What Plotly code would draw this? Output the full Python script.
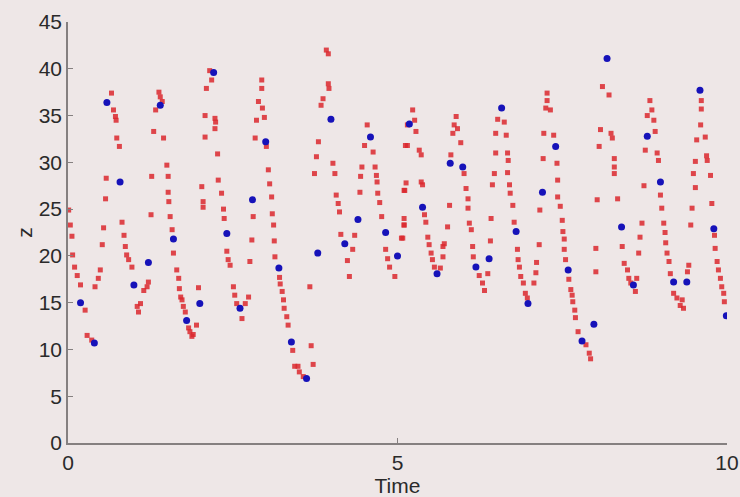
import plotly.graph_objects as go

# Red trajectory/ensemble points (time, z)
red_t = [0.01, 0.035, 0.06, 0.07, 0.10, 0.14, 0.19, 0.26, 0.29, 0.36,
         0.41, 0.46, 0.49, 0.52, 0.54, 0.57, 0.58, 0.66, 0.69, 0.72,
         0.73, 0.74, 0.78, 0.82, 0.85, 0.87, 0.89, 0.92, 0.97, 1.05,
         1.10, 1.07, 1.15, 1.20, 1.22, 1.26, 1.27, 1.30, 1.33, 1.38,
         1.40, 1.43, 1.45, 1.50, 1.52, 1.52, 1.53, 1.55, 1.58, 1.60,
         1.65, 1.68, 1.69, 1.71, 1.73, 1.75, 1.78, 1.83, 1.85, 1.88,
         1.90, 1.95, 1.98, 2.03, 2.05, 2.05, 2.08, 2.08, 2.10, 2.15,
         2.18, 2.23, 2.24, 2.23, 2.27, 2.28, 2.33, 2.36, 2.37, 2.41,
         2.43, 2.46, 2.51, 2.53, 2.56, 2.64, 2.69, 2.74, 2.76, 2.79,
         2.81, 2.84, 2.86, 2.89, 2.94, 2.94, 2.95, 2.98, 3.01, 3.04,
         3.06, 3.09, 3.10, 3.12, 3.13, 3.14, 3.21, 3.22, 3.25, 3.27,
         3.28, 3.32, 3.34, 3.41, 3.44, 3.49, 3.51, 3.57, 3.67, 3.69,
         3.72, 3.74, 3.77, 3.80, 3.84, 3.87, 3.92, 3.95, 3.95, 3.96,
         4.02, 4.05, 4.07, 4.10, 4.12, 4.14, 4.24, 4.27, 4.32, 4.35,
         4.43, 4.44, 4.46, 4.50, 4.54, 4.63, 4.66, 4.68, 4.69, 4.70,
         4.73, 4.76, 4.82, 4.85, 4.88, 4.96, 5.06, 5.10, 5.11, 5.12,
         5.15, 5.23, 5.26, 5.28, 5.15, 5.33, 5.36, 5.13, 5.10, 5.36,
         5.38, 5.41, 5.43, 5.10, 5.10, 5.08, 5.46, 5.48, 5.51, 5.53,
         5.56, 5.65, 5.69, 5.69, 5.71, 5.76, 5.79, 5.81, 5.84, 5.86,
         5.89, 5.91, 5.96, 6.01, 6.04, 6.07, 6.07, 6.09, 6.12, 6.14,
         6.15, 6.24, 6.29, 6.32, 6.37, 6.41, 6.42, 6.44, 6.47, 6.49,
         6.49, 6.52, 6.62, 6.65, 6.67, 6.68, 6.67, 6.70, 6.71, 6.75,
         6.77, 6.82, 6.83, 6.85, 6.87, 6.91, 6.94, 6.97, 7.07, 7.10,
         7.11, 7.15, 7.16, 7.21, 7.22, 7.25, 7.27, 7.27, 7.32, 7.37,
         7.42, 7.43, 7.43, 7.47, 7.50, 7.51, 7.53, 7.53, 7.55, 7.60,
         7.63, 7.65, 7.66, 7.69, 7.70, 7.74, 7.86, 7.91, 7.93, 8.01,
         8.01, 8.03, 8.06, 8.08, 8.11, 8.21, 8.24, 8.26, 8.29, 8.29,
         8.29, 8.34, 8.41, 8.44, 8.49, 8.51, 8.54, 8.63, 8.61, 8.66,
         8.68, 8.71, 8.74, 8.76, 8.79, 8.83, 8.86, 8.89, 8.91, 8.94,
         8.96, 8.99, 9.01, 9.04, 9.06, 9.07, 9.09, 9.12, 9.14, 9.19,
         9.24, 9.29, 9.34, 9.32, 9.40, 9.42, 9.45, 9.47, 9.52, 9.49,
         9.52, 9.54, 9.60, 9.61, 9.61, 9.67, 9.69, 9.70, 9.75, 9.77,
         9.81, 9.82, 9.85, 9.87, 9.90, 9.92, 9.95, 9.96]
red_z = [24.9, 23.3, 22.1, 20.1, 18.8, 17.9, 16.9, 14.2, 11.5, 11.0,
         16.7, 17.6, 18.5, 21.2, 23.0, 26.1, 28.3, 37.4, 35.6, 34.9,
         34.5, 32.6, 31.7, 23.6, 22.2, 21.0, 20.1, 19.6, 18.8, 14.6,
         14.9, 14.0, 16.3, 16.7, 17.2, 24.4, 28.5, 33.3, 35.6, 37.5,
         37.0, 36.5, 32.6, 29.7, 28.5, 26.8, 25.8, 24.2, 22.8, 20.3,
         18.5, 17.6, 16.5, 15.6, 15.3, 14.6, 14.0, 12.3, 11.9, 11.4,
         11.6, 12.6, 16.6, 27.4, 25.8, 25.2, 35.0, 32.7, 37.9, 39.8,
         38.8, 34.7, 34.3, 33.6, 30.9, 28.1, 26.7, 25.0, 24.0, 20.5,
         19.6, 19.0, 16.7, 15.8, 14.9, 13.3, 14.9, 15.6, 19.4, 21.7,
         24.2, 32.6, 34.5, 36.5, 38.8, 37.9, 35.8, 34.8, 31.7, 29.2,
         27.7, 26.3, 24.5, 23.3, 21.6, 19.9, 17.7, 17.0, 16.2, 15.3,
         14.4, 13.5, 12.6, 9.9, 8.2, 8.2, 7.6, 7.1, 16.7, 10.4,
         8.4, 28.8, 30.6, 32.2, 36.1, 36.8, 42.0, 41.6, 38.4, 37.9,
         29.9, 28.8, 26.5, 25.6, 24.7, 22.3, 19.5, 17.8, 20.7, 22.2,
         26.8, 28.5, 29.5, 31.8, 34.0, 31.1, 29.5, 28.6, 27.9, 26.7,
         25.7, 24.2, 20.7, 19.7, 18.8, 17.8, 21.9, 23.3, 27.0, 31.8,
         34.0, 35.6, 34.5, 33.3, 31.8, 31.3, 30.8, 27.8, 27.0, 27.9,
         27.6, 24.4, 23.6, 24.0, 23.3, 21.9, 22.0, 21.2, 20.3, 19.6,
         18.8, 18.7, 19.9, 21.0, 21.3, 23.1, 25.4, 30.8, 33.1, 34.0,
         34.9, 33.6, 32.1, 28.8, 27.2, 26.1, 25.1, 23.5, 22.8, 21.0,
         19.9, 17.9, 17.1, 16.3, 18.1, 21.6, 24.0, 27.6, 28.8, 31.0,
         33.1, 34.6, 34.3, 32.9, 31.0, 30.2, 28.9, 27.6, 26.7, 25.4,
         23.6, 20.7, 19.6, 18.8, 17.8, 17.1, 16.0, 15.5, 17.1, 18.2,
         19.3, 21.2, 24.9, 30.4, 33.1, 35.8, 36.6, 37.4, 35.6, 32.9,
         29.9, 28.1, 26.3, 25.3, 23.8, 22.6, 21.8, 20.7, 19.6, 17.5,
         16.4, 15.8, 15.1, 14.2, 13.4, 11.9, 10.5, 9.6, 9.0, 18.3,
         20.8, 26.0, 31.7, 33.5, 38.1, 37.2, 33.1, 32.6, 30.4, 29.5,
         28.8, 26.1, 21.0, 19.2, 18.5, 17.6, 17.1, 17.6, 16.2, 20.3,
         22.0, 23.5, 27.5, 31.3, 35.0, 36.6, 35.6, 34.5, 33.3, 31.0,
         30.2, 26.5, 25.1, 23.5, 22.5, 21.4, 20.3, 19.4, 18.1, 16.0,
         15.5, 14.7, 14.4, 15.3, 18.3, 19.0, 23.3, 25.1, 27.3, 28.8,
         30.1, 32.4, 34.0, 35.7, 36.6, 32.7, 30.7, 30.2, 28.6, 25.6,
         22.2, 20.8, 19.4, 18.5, 17.6, 16.7, 16.0, 15.1]

# Blue observation points (time, z)
blue_t = [0.19, 0.40, 0.59, 0.79, 1.00, 1.22, 1.40, 1.60, 1.80, 2.00,
          2.21, 2.41, 2.61, 2.80, 3.00, 3.20, 3.39, 3.62, 3.79, 3.99,
          4.20, 4.40, 4.59, 4.82, 5.00, 5.18, 5.38, 5.60, 5.80, 5.99,
          6.19, 6.39, 6.58, 6.80, 6.98, 7.20, 7.40, 7.59, 7.80, 7.98,
          8.18, 8.40, 8.58, 8.79, 8.99, 9.19, 9.39, 9.59, 9.80, 9.99]
blue_z = [15.0, 10.7, 36.4, 27.9, 16.9, 19.3, 36.1, 21.8, 13.1, 14.9,
          39.6, 22.4, 14.4, 26.0, 32.2, 18.7, 10.8, 6.9, 20.3, 34.6,
          21.3, 23.9, 32.7, 22.5, 20.0, 34.1, 25.2, 18.1, 29.9, 29.5,
          18.8, 19.7, 35.8, 22.6, 14.9, 26.8, 31.7, 18.5, 10.9, 12.7,
          41.1, 23.1, 16.9, 32.8, 27.9, 17.2, 17.2, 37.7, 22.9, 13.6]

x_ticks = [0, 5, 10]
y_ticks = [0, 5, 10, 15, 20, 25, 30, 35, 40, 45]

bg = "#eee7e7"
fig = go.Figure()
fig.add_trace(go.Scatter(x=red_t, y=red_z, mode="markers",
                         marker=dict(color="rgb(218,40,46)", size=5, symbol="square",
                                     opacity=0.85, line=dict(width=0)),
                         hoverinfo="skip", showlegend=False))
fig.add_trace(go.Scatter(x=blue_t, y=blue_z, mode="markers",
                         marker=dict(color="rgb(22,18,185)", size=7,
                                     line=dict(width=0)),
                         hoverinfo="skip", showlegend=False))

axis_font = dict(family="Liberation Sans, Arial, sans-serif", size=21, color="#2a2a2a")
fig.update_layout(
    width=740, height=497,
    paper_bgcolor=bg, plot_bgcolor=bg,
    margin=dict(l=68, r=13, t=22, b=54),
    font=axis_font,
    xaxis=dict(range=[0, 10], tickvals=x_ticks, ticktext=[str(v) for v in x_ticks],
               showgrid=False, zeroline=False, showline=True, linecolor="#858080",
               linewidth=1.5, ticks="inside", ticklen=5, tickcolor="#858080",
               automargin=False, tickfont=axis_font,
               title=dict(text="Time", font=axis_font, standoff=0)),
    yaxis=dict(range=[0, 45], tickvals=y_ticks, ticktext=[str(v) for v in y_ticks],
               showgrid=False, zeroline=False, showline=True, linecolor="#858080",
               linewidth=1.5, ticks="inside", ticklen=5, tickcolor="#858080",
               automargin=False, tickfont=axis_font,
               title=dict(text="z", font=axis_font, standoff=0)),
)
fig.write_html(
    "out.html",
    config={"displayModeBar": False},
    post_script="document.body.style.margin='0';"
                "document.body.style.background='#eee7e7';"
                "document.body.style.overflow='hidden';",
)
